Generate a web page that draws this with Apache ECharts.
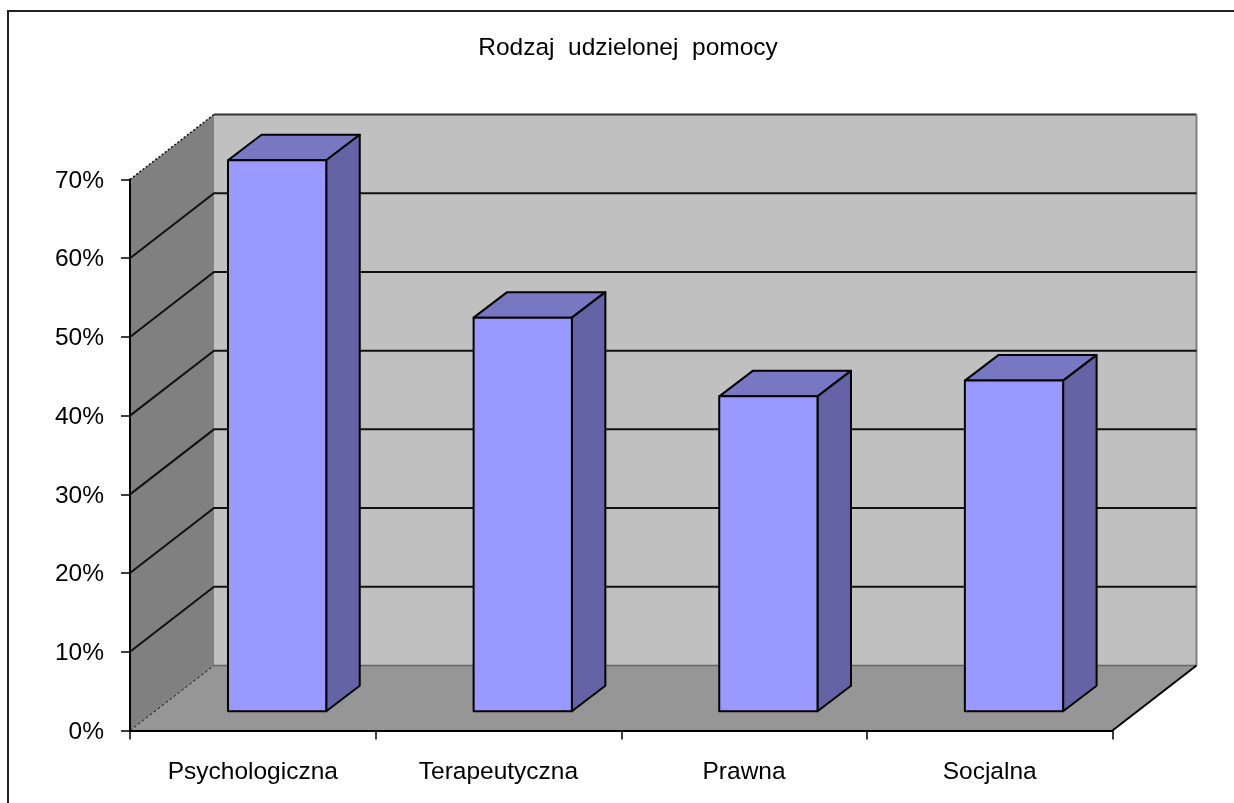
<!DOCTYPE html>
<html>
<head>
<meta charset="utf-8">
<title>Rodzaj udzielonej pomocy</title>
<script src="https://cdn.jsdelivr.net/npm/echarts@6/dist/echarts.min.js"></script>
<style>
  html, body { margin: 0; padding: 0; background: #fff; }
  #chart { width: 1234px; height: 803px; }
</style>
</head>
<body>
<div id="chart"></div>
<script>
const categories = ['Psychologiczna', 'Terapeutyczna', 'Prawna', 'Socjalna']
const values = [70, 50, 40, 42]
const gridTicks = [10, 20, 30, 40, 50, 60]

// fake 3d depth, in pixels
const wallDx = 84
const wallDy = 65
const barDx = 33.5
const barDy = 25.5
const barInsetX = 24.3
const barInsetY = 19.3

const chart = echarts.init(document.getElementById('chart'))

function poly(points, fill, stroke, width, dash) {
  return {
    type: 'polygon',
    shape: { points },
    style: { fill, stroke: stroke || 'none', lineWidth: width || 0, lineDash: dash, lineJoin: 'round' }
  }
}

function line(x1, y1, x2, y2, stroke, width, dash) {
  return {
    type: 'line',
    shape: { x1, y1, x2, y2 },
    style: { stroke, lineWidth: width, lineDash: dash }
  }
}

// back wall, side wall and floor
function renderWalls(params) {
  const c = params.coordSys
  const l = c.x, r = c.x + c.width, t = c.y, b = c.y + c.height
  return {
    type: 'group',
    children: [
      poly([[l + wallDx, t - wallDy], [r + wallDx, t - wallDy], [r + wallDx, b - wallDy], [l + wallDx, b - wallDy]], '#c0c0c0'),
      poly([[l, t], [l + wallDx, t - wallDy], [l + wallDx, b - wallDy], [l, b]], '#808080'),
      poly([[l, b], [l + wallDx, b - wallDy], [r + wallDx, b - wallDy], [r, b]], '#969696'),
      line(l + wallDx, t - wallDy, r + wallDx, t - wallDy, '#333', 2),
      line(r + wallDx, t - wallDy, r + wallDx, b - wallDy, '#808080', 2),
      line(l + wallDx, b - wallDy, r + wallDx, b - wallDy, '#666', 1.5),
      line(l, t, l + wallDx, t - wallDy, '#111', 1.5, [2, 2]),
      line(l, b, l + wallDx, b - wallDy, '#111', 1, [3, 2]),
      line(r, b, r + wallDx, b - wallDy, '#000', 2)
    ]
  }
}

// grid lines bend from the side wall on to the back wall
function renderGridLine(params, api) {
  const c = params.coordSys
  const p = api.coord([0, api.value(0)])
  const y = p[1]
  return {
    type: 'polyline',
    shape: { points: [[c.x, y], [c.x + wallDx, y - wallDy], [c.x + c.width + wallDx, y - wallDy]] },
    style: { fill: 'none', stroke: '#111', lineWidth: 2 }
  }
}

function renderBar(params, api) {
  const idx = api.value(0)
  const top = api.coord([idx, api.value(1)])
  const base = api.coord([idx, 0])
  const w = api.size([1, 0])[0] * 0.4
  const l = top[0] - w / 2 + barInsetX
  const r = l + w
  const t = top[1] - barInsetY
  const b = base[1] - barInsetY
  const edge = '#000'
  return {
    type: 'group',
    children: [
      poly([[l, t], [l + barDx, t - barDy], [r + barDx, t - barDy], [r, t]], '#7777c2', edge, 2),
      poly([[r, t], [r + barDx, t - barDy], [r + barDx, b - barDy], [r, b]], '#6363a5', edge, 2),
      poly([[l, t], [r, t], [r, b], [l, b]], '#9999ff', edge, 2)
    ]
  }
}

const option = {
  animation: false,
  textStyle: { fontFamily: '"Liberation Sans", Arial, sans-serif' },
  title: {
    text: 'Rodzaj  udzielonej  pomocy',
    left: 623,
    top: 31,
    textAlign: 'center',
    textStyle: { fontSize: 24.5, fontWeight: 'normal', color: '#000', fontFamily: '"Liberation Sans", Arial, sans-serif' }
  },
  grid: { left: 130, top: 179.5, width: 982.5, height: 551 },
  xAxis: {
    type: 'category',
    data: categories,
    z: 5,
    axisLine: { lineStyle: { color: '#000', width: 2 } },
    axisTick: { show: true, alignWithLabel: false, length: 9, lineStyle: { color: '#000', width: 1.5 } },
    axisLabel: { color: '#000', fontSize: 24.5, margin: 29, interval: 0 }
  },
  yAxis: {
    type: 'value',
    min: 0,
    max: 70,
    interval: 10,
    z: 5,
    splitLine: { show: false },
    axisLine: { show: true, lineStyle: { color: '#000', width: 2 } },
    axisTick: { show: true, length: 9, lineStyle: { color: '#000', width: 1.5 } },
    axisLabel: {
      margin: 26,
      formatter: '{a|{value}%}',
      rich: { a: { color: '#000', fontSize: 24.5, padding: [3, 0, 0, 0] } }
    }
  },
  graphic: [
    {
      type: 'polyline',
      shape: { points: [[8, 803], [8, 11], [1234, 11]] },
      style: { fill: 'none', stroke: '#222', lineWidth: 2 }
    }
  ],
  series: [
    { type: 'custom', clip: false, z: 1, renderItem: renderWalls, data: [0], encode: { y: 0 }, silent: true },
    { type: 'custom', clip: false, z: 2, renderItem: renderGridLine, data: gridTicks.map(v => [v]), encode: { y: 0 }, silent: true },
    { type: 'custom', clip: false, z: 3, renderItem: renderBar, data: values.map((v, i) => [i, v]), encode: { x: 0, y: 1 } }
  ]
}

chart.setOption(option)
</script>
</body>
</html>
